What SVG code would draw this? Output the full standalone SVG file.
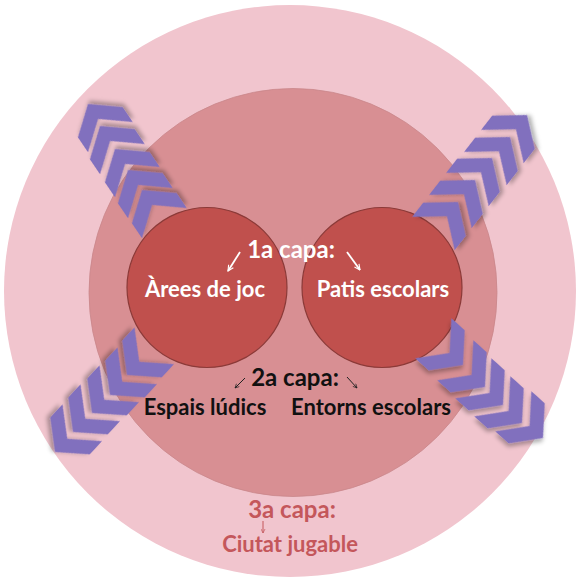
<svg xmlns="http://www.w3.org/2000/svg" width="577" height="579" viewBox="0 0 577 579">
<defs>
<style>
.lbl{font-family:Lato,"Open Sans","Liberation Sans",sans-serif;font-weight:bold;text-anchor:middle}
.w{fill:#ffffff}
.k{fill:#111111}
.r{fill:#C4575B}
.chev{fill:#8170BE;filter:url(#sh)}
</style>
<filter id="sh" x="-30%" y="-30%" width="160%" height="160%">
<feDropShadow dx="2" dy="3" stdDeviation="2" flood-color="#000" flood-opacity="0.3"/>
</filter>
<path id="cv" d="M-40,-27 L-22,-27 L0,0 L-22,27 L-40,27 L-18,0 Z"/>
<marker id="aw" viewBox="0 0 10 10" refX="9" refY="5" markerWidth="7" markerHeight="7" orient="auto" markerUnits="userSpaceOnUse"><path d="M1,1 L9,5 L1,9" fill="none" stroke="#fff" stroke-width="1.6"/></marker>
<marker id="ak" viewBox="0 0 10 10" refX="9" refY="5" markerWidth="5" markerHeight="5" orient="auto" markerUnits="userSpaceOnUse"><path d="M1,1 L9,5 L1,9" fill="none" stroke="#222" stroke-width="1.4"/></marker>
<marker id="ar" viewBox="0 0 10 10" refX="9" refY="5" markerWidth="5" markerHeight="5" orient="auto" markerUnits="userSpaceOnUse"><path d="M1,1 L9,5 L1,9" fill="none" stroke="#C4575B" stroke-width="1.4"/></marker>
</defs>
<rect width="577" height="579" fill="#ffffff"/>
<g id="layer3"><circle cx="290" cy="291" r="286" fill="#F1C5CE"/></g>
<g id="layer2"><circle cx="293" cy="292.5" r="204" fill="#D88F93" stroke="#C9868A" stroke-width="0.8"/></g>
<g id="arees"><circle cx="207" cy="287.5" r="80" fill="#C0504D" stroke="#8B3A38" stroke-width="1.2"/></g>
<g id="patis"><circle cx="382" cy="287.5" r="80" fill="#C0504D" stroke="#8B3A38" stroke-width="1.2"/></g>
<g id="chevrons-tl">
<use href="#cv" class="chev" transform="translate(142,190) rotate(-124)"/>
<use href="#cv" class="chev" transform="translate(128,170) rotate(-124)"/>
<use href="#cv" class="chev" transform="translate(115,149) rotate(-124)"/>
<use href="#cv" class="chev" transform="translate(100,126) rotate(-124)"/>
<use href="#cv" class="chev" transform="translate(88,104) rotate(-124)"/>
</g>
<g id="chevrons-tr">
<use href="#cv" class="chev" transform="translate(458,202) rotate(-52)"/>
<use href="#cv" class="chev" transform="translate(475,180) rotate(-52)"/>
<use href="#cv" class="chev" transform="translate(492,158) rotate(-52)"/>
<use href="#cv" class="chev" transform="translate(510,137) rotate(-52)"/>
<use href="#cv" class="chev" transform="translate(527,115) rotate(-52)"/>
</g>
<g id="chevrons-bl">
<use href="#cv" class="chev" transform="translate(127,375) rotate(133)"/>
<use href="#cv" class="chev" transform="translate(110,395) rotate(133)"/>
<use href="#cv" class="chev" transform="translate(92,413) rotate(133)"/>
<use href="#cv" class="chev" transform="translate(73,432) rotate(133)"/>
<use href="#cv" class="chev" transform="translate(55,452) rotate(133)"/>
</g>
<g id="chevrons-br">
<use href="#cv" class="chev" transform="translate(463,365) rotate(42)"/>
<use href="#cv" class="chev" transform="translate(485,387) rotate(42)"/>
<use href="#cv" class="chev" transform="translate(503,405) rotate(42)"/>
<use href="#cv" class="chev" transform="translate(522,423) rotate(42)"/>
<use href="#cv" class="chev" transform="translate(543,438) rotate(42)"/>
</g>
<g id="connectors">
<line x1="240" y1="252" x2="228" y2="271" stroke="#fff" stroke-width="1.8" marker-end="url(#aw)"/>
<line x1="347" y1="252" x2="360" y2="270" stroke="#fff" stroke-width="1.8" marker-end="url(#aw)"/>
<line x1="245" y1="378" x2="235" y2="388" stroke="#222" stroke-width="1" marker-end="url(#ak)"/>
<line x1="347" y1="377" x2="357" y2="388" stroke="#222" stroke-width="1" marker-end="url(#ak)"/>
<line x1="263" y1="521" x2="263" y2="533" stroke="#C4575B" stroke-width="1" marker-end="url(#ar)"/>
</g>
<g id="t1"><text class="lbl w" x="291" y="258" font-size="24">1a capa:</text></g>
<g id="t-arees"><text class="lbl w" x="205" y="297" font-size="22">Àrees de joc</text></g>
<g id="t-patis"><text class="lbl w" x="383" y="297" font-size="22">Patis escolars</text></g>
<g id="t2"><text class="lbl k" x="295" y="386" font-size="24">2a capa:</text></g>
<g id="t-espais"><text class="lbl k" x="205" y="415" font-size="22">Espais lúdics</text></g>
<g id="t-entorns"><text class="lbl k" x="371" y="415" font-size="22">Entorns escolars</text></g>
<g id="t3"><text class="lbl r" x="292" y="518" font-size="24">3a capa:</text></g>
<g id="t-ciutat"><text class="lbl r" x="290" y="552" font-size="22">Ciutat jugable</text></g>
</svg>
